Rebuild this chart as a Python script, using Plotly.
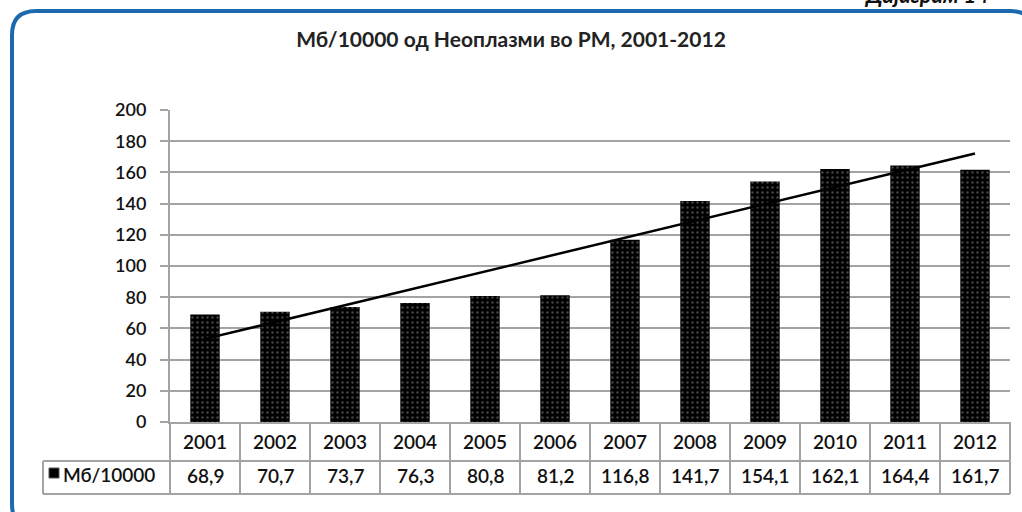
import numpy as np
import plotly.graph_objects as go

years = ["2001", "2002", "2003", "2004", "2005", "2006",
         "2007", "2008", "2009", "2010", "2011", "2012"]
values = [68.9, 70.7, 73.7, 76.3, 80.8, 81.2,
          116.8, 141.7, 154.1, 162.1, 164.4, 161.7]
series_name = "Мб/10000"
title = "Мб/10000 од Неоплазми во РМ, 2001-2012"
y_ticks = list(range(0, 201, 20))

W, H = 1022, 512
L, R, T, B = 170, 12, 110, 90
PW, PH = W - L - R, H - T - B
FONT = "Lato"
GRID = "#a3a3a3"
TXT = "#111"
WT = 600


def px(x):
    return (x - L) / PW


def py(y):
    return (H - B - y) / PH


# linear trend through the bar tops
idx = np.arange(len(values))
slope, icpt = np.polyfit(idx, values, 1)
trend = slope * idx + icpt

fig = go.Figure()
fig.add_trace(go.Bar(
    x=years, y=values, name=series_name,
    marker=dict(color="black", line=dict(width=0),
                pattern=dict(shape=".", bgcolor="black", fgcolor="#8a8a8a",
                             size=5, solidity=0.18)),
    showlegend=False,
))
fig.add_trace(go.Scatter(
    x=years, y=trend, mode="lines",
    line=dict(color="black", width=2.5),
    showlegend=False, hoverinfo="skip",
))

shapes = []
# table grid
row1, row2, row3 = py(422), py(461), py(494)
n = len(years)
for i in range(n + 1):
    shapes.append(dict(type="line", xref="paper", yref="paper",
                       x0=i / n, x1=i / n, y0=row1, y1=row3,
                       line=dict(color=GRID, width=2)))
for yy in (row2, row3):
    shapes.append(dict(type="line", xref="paper", yref="paper",
                       x0=px(43), x1=1, y0=yy, y1=yy,
                       line=dict(color=GRID, width=2)))
shapes.append(dict(type="line", xref="paper", yref="paper",
                   x0=px(43), x1=px(43), y0=row2, y1=row3,
                   line=dict(color=GRID, width=2)))
# legend key
shapes.append(dict(type="rect", xref="paper", yref="paper",
                   x0=px(49), x1=px(59), y0=py(468), y1=py(478),
                   fillcolor="black", line=dict(color="#555", width=1)))

# rounded frame
x0, y0, x1, y1, r = 12, 11, 1034, 528, 24
frame = (f"M {px(x0)},{py(y0 + r)} "
         f"Q {px(x0)},{py(y0)} {px(x0 + r)},{py(y0)} "
         f"L {px(x1 - r)},{py(y0)} "
         f"Q {px(x1)},{py(y0)} {px(x1)},{py(y0 + r)} "
         f"L {px(x1)},{py(y1 - r)} "
         f"Q {px(x1)},{py(y1)} {px(x1 - r)},{py(y1)} "
         f"L {px(x0 + r)},{py(y1)} "
         f"Q {px(x0)},{py(y1)} {px(x0)},{py(y1 - r)} Z")
shapes.append(dict(type="path", xref="paper", yref="paper", path=frame,
                   line=dict(color="#1c6aae", width=4)))

cell_font = dict(family=FONT, size=19, color=TXT, weight=WT)
annotations = []
for i, (yr, v) in enumerate(zip(years, values)):
    annotations.append(dict(x=i, xref="x", y=py(441), yref="paper",
                            xanchor="center", yanchor="middle",
                            text=yr, showarrow=False, font=cell_font))
    annotations.append(dict(x=i, xref="x", y=py(475), yref="paper",
                            xanchor="center", yanchor="middle",
                            text=f"{v:.1f}".replace(".", ","), showarrow=False,
                            font=cell_font))
annotations.append(dict(x=px(61), xref="paper", y=py(474), yref="paper",
                        xanchor="left", yanchor="middle", showarrow=False,
                        text=series_name, font=cell_font))
annotations.append(dict(x=px(862), xref="paper", y=py(10), yref="paper",
                        xanchor="left", yanchor="bottom", showarrow=False,
                        text="<b><i>Дијаграм 14</i></b>",
                        font=dict(family=FONT, size=22, color=TXT)))

fig.update_layout(
    width=W, height=H,
    margin=dict(l=L, r=R, t=T, b=B),
    paper_bgcolor="white", plot_bgcolor="white",
    title=dict(text="<b>" + title + "</b>", x=0.5, xref="container",
               y=1 - 40 / H, yref="container", xanchor="center", yanchor="middle",
               font=dict(family=FONT, size=21, color="#222")),
    bargap=0.58,
    xaxis=dict(type="category", range=[-0.5, n - 0.5], showticklabels=False,
               showgrid=False, showline=True, linecolor=GRID, linewidth=2,
               ticks="", fixedrange=True),
    yaxis=dict(range=[0, 200], tickvals=y_ticks, showgrid=True,
               gridcolor=GRID, gridwidth=2, zeroline=False,
               showline=True, linecolor=GRID, linewidth=2,
               ticks="outside", ticklen=8, tickcolor=GRID, tickwidth=2,
               ticklabelstandoff=10,
               tickfont=dict(family=FONT, size=18, color=TXT, weight=WT)),
    shapes=shapes,
    annotations=annotations,
)

fig.write_html("out.html", config={"displayModeBar": False},
               post_script="document.body.style.margin='0';")
